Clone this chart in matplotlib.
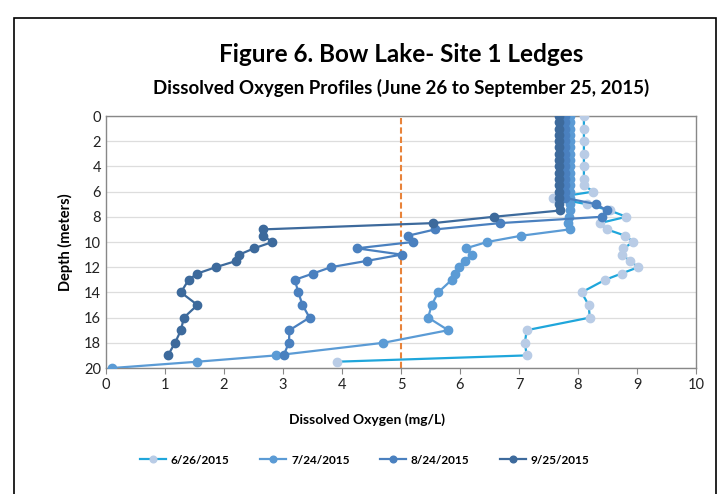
import numpy as np
import matplotlib.pyplot as plt
from matplotlib.patches import Rectangle

plt.rcParams['font.family'] = ['Lato', 'DejaVu Sans']

# ── Data ──────────────────────────────────────────────────────────────────────
top_depths = [0, 0.5, 1, 1.5, 2, 2.5, 3, 3.5, 4, 4.5, 5, 5.5, 6, 6.5]

# 6/26/2015
d_0626 = [0, 1, 2, 3, 4, 5, 5.5, 6, 6.5, 7, 7.5, 8, 8.5, 9, 9.5, 10, 10.5, 11,
          11.5, 12, 12.5, 13, 14, 15, 16, 17, 18, 19, 19.5]
do_0626 = [8.10, 8.10, 8.10, 8.10, 8.10, 8.10, 8.10, 8.26, 7.58, 8.15, 8.54,
           8.82, 8.37, 8.49, 8.80, 8.94, 8.77, 8.74, 8.88, 9.02, 8.74, 8.46,
           8.06, 8.18, 8.20, 7.13, 7.10, 7.13, 3.92]

# 7/24/2015
d_0724 = top_depths + [7, 7.5, 8, 8.5, 9, 9.5, 10, 10.5, 11, 11.5, 12, 12.5,
                       13, 14, 15, 16, 17, 18, 19, 19.5, 20]
do_0724 = [7.86] * len(top_depths) + [7.86, 7.86, 7.85, 7.83, 7.86, 7.04, 6.46,
                                      6.10, 6.20, 6.08, 5.99, 5.92, 5.86, 5.63,
                                      5.52, 5.46, 5.80, 4.70, 2.88, 1.55, 0.11]

# 8/24/2015
d_0824 = top_depths + [7, 7.5, 8, 8.5, 9, 9.5, 10, 10.5, 11, 11.5, 12, 12.5,
                       13, 14, 15, 16, 17, 18, 19]
do_0824 = [7.78] * len(top_depths) + [8.31, 8.49, 8.40, 6.68, 5.58, 5.12, 5.20,
                                      4.25, 5.01, 4.42, 3.81, 3.51, 3.20, 3.26,
                                      3.33, 3.45, 3.11, 3.10, 3.01]

# 9/25/2015
d_0925 = top_depths + [7, 7.5, 8, 8.5, 9, 9.5, 10, 10.5, 11, 11.5, 12, 12.5,
                       13, 14, 15, 16, 17, 18, 19]
do_0925 = [7.68] * len(top_depths) + [7.68, 7.70, 6.57, 5.55, 2.66, 2.66, 2.82,
                                      2.51, 2.26, 2.21, 1.86, 1.55, 1.40, 1.27,
                                      1.55, 1.32, 1.27, 1.17, 1.05]

labels = ["6/26/2015", "7/24/2015", "8/24/2015", "9/25/2015"]
line_colors = ["#1FA6DB", "#5B9BD5", "#4A80BF", "#3D6A9C"]
marker_colors = ["#B9CCE6", "#5B9BD5", "#4A80BF", "#3D6A9C"]

DO_THRESHOLD = 5

# ── Figure ────────────────────────────────────────────────────────────────────
fig = plt.figure(figsize=(7.23, 4.94), dpi=100)
fig.patch.set_facecolor("white")
fig.patches.append(Rectangle((14 / 723, -0.05), 702 / 723, 1.05 - 18 / 494,
                             transform=fig.transFigure, fill=False,
                             edgecolor="black", linewidth=1.2))

ax = fig.add_axes([106 / 723, 1 - 368 / 494, 590 / 723, 252 / 494])

series = [(d_0626, do_0626), (d_0724, do_0724), (d_0824, do_0824), (d_0925, do_0925)]
handles = []
for (d, v), lab, lc, mc in zip(series, labels, line_colors, marker_colors):
    h, = ax.plot(v, d, "-o", color=lc, markerfacecolor=mc, markeredgecolor=mc,
                 markersize=6, linewidth=1.6, label=lab, zorder=3)
    handles.append(h)

ax.axvline(DO_THRESHOLD, color="#E8833A", linestyle=(0, (3, 1.5)), linewidth=1.5,
           zorder=2)

ax.set_xlim(0, 10)
ax.set_ylim(20, 0)
ax.set_xticks(range(0, 11))
ax.set_yticks(range(0, 21, 2))
ax.tick_params(axis="both", labelsize=10.5, colors="#222222")
ax.tick_params(axis="x", length=4, color="#888888")
ax.tick_params(axis="y", length=0)
ax.grid(axis="y", color="#DDDDDD", linewidth=0.9, zorder=0)
ax.set_axisbelow(True)
for s in ax.spines.values():
    s.set_color("#888888")
    s.set_linewidth(1.0)

ax.set_ylabel("Depth (meters)", fontsize=10.5, fontweight="bold", labelpad=8)

fig.text(401 / 723, 1 - 55 / 494, "Figure 6. Bow Lake- Site 1 Ledges",
         ha="center", va="center", fontsize=17.5, fontweight="bold")
fig.text(401 / 723, 1 - 88 / 494,
         "Dissolved Oxygen Profiles (June 26 to September 25, 2015)",
         ha="center", va="center", fontsize=13.5, fontweight="bold")
fig.text(367 / 723, 1 - 420 / 494, "Dissolved Oxygen (mg/L)",
         ha="center", va="center", fontsize=10, fontweight="bold")

fig.legend(handles=handles, loc="center", bbox_to_anchor=(365 / 723, 1 - 460 / 494),
           ncol=4, frameon=False, prop={"weight": "bold", "size": 8.5},
           handlelength=2.2, handletextpad=0.4, columnspacing=2.6, markerscale=0.8)

fig.savefig("out.png", dpi=100)
